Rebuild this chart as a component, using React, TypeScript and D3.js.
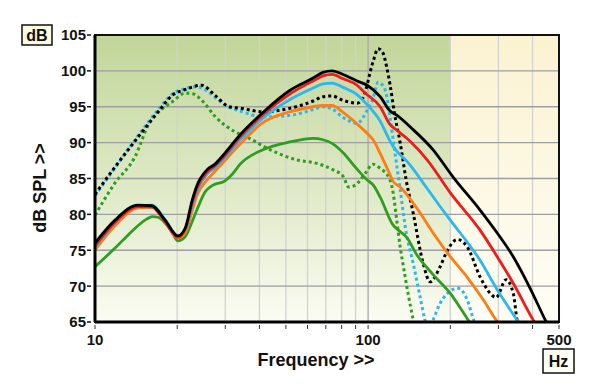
import * as React from 'react';
import {scaleLog, scaleLinear, line, curveMonotoneX} from 'd3';

const width = 600;
const height = 389;

// plot frame, in pixels
const left = 95;
const right = 559;
const top = 35;
const bottom = 322;

const yTicks = [65, 70, 75, 80, 85, 90, 95, 100, 105];
const xTicks = [10, 20, 30, 40, 50, 60, 70, 80, 90, 100, 200, 300, 400, 500];
const xLabels = [10, 100, 500];

// [Hz, dB] pairs
const blackSolid = [
    [10, 76.0], [11.84, 79.2], [14.37, 81.3], [16.17, 81.2], [18.05, 79.2], [20.1, 77.0],
    [21.4, 78.1], [22.7, 82.0], [23.6, 84.0], [25.7, 86.2], [27.5, 87.0], [29.4, 88.2],
    [34, 91.1], [41.2, 94.2], [51.8, 97.3], [62.9, 99.0], [68.4, 99.8], [73.8, 100.0],
    [81, 99.5], [91.1, 98.6], [99.2, 98.0], [110.7, 96.4], [120.4, 94.4], [127.7, 93.8],
    [142.5, 92.2], [173, 89.0], [204.8, 85.2], [257, 80.6], [297, 77.4], [340, 74.1],
    [392, 69.7], [445, 65.3], [470, 63.5],
];
const redSolid = [
    [10, 75.6], [11.84, 78.9], [14.37, 81.1], [16.17, 81.0], [18.05, 79.0], [20.1, 76.8],
    [21.4, 77.9], [22.7, 81.6], [23.6, 83.6], [25.7, 85.9], [27.5, 86.8], [29.4, 87.9],
    [34, 90.8], [41.2, 93.9], [51.8, 96.8], [62.9, 98.6], [68.4, 99.3], [73.8, 99.5],
    [81, 98.9], [91.1, 98.0], [97, 97.0], [110.7, 95.0], [120.4, 92.5], [127.7, 91.7],
    [142.5, 90.2], [164.5, 87.6], [200, 83.0], [257, 77.8], [297, 74.1], [340, 70.4],
    [402, 65.3], [430, 63.5],
];
const cyanSolid = [
    [10, 75.4], [11.84, 78.8], [14.37, 81.2], [16.17, 81.3], [18.05, 79.3], [20.1, 77.0],
    [21.4, 77.8], [22.7, 81.2], [23.6, 83.2], [25.7, 85.6], [27.5, 86.5], [29.4, 87.6],
    [34, 90.4], [41.2, 93.4], [51.8, 96.0], [62.9, 97.6], [68.4, 98.2], [73.8, 98.3],
    [81, 97.7], [91.1, 96.7], [99.2, 95.3], [110.7, 93.0], [120.4, 90.2], [125, 89.2],
    [131, 88.3], [137.8, 87.5], [164.5, 83.6], [183.5, 81.1], [200, 79.2], [257, 73.6],
    [297, 69.5], [345, 65.7], [370, 64.0],
];
const orangeSolid = [
    [10, 75.0], [11.84, 78.4], [14.37, 80.9], [16.17, 81.0], [18.05, 79.0], [20.1, 76.7],
    [21.4, 77.4], [22.7, 80.5], [23.6, 82.6], [25.7, 84.8], [27.5, 86.0], [29.4, 87.2],
    [34, 89.8], [41.2, 92.8], [51.8, 94.3], [62.9, 95.0], [68.4, 95.2], [73.8, 95.2],
    [81, 94.2], [91.1, 92.6], [99.2, 91.3], [104.3, 90.4], [110.7, 88.5], [120.4, 85.5],
    [123.5, 84.6], [131, 83.8], [151.2, 80.8], [173, 77.4], [200, 74.1], [230, 71.3],
    [264, 68.1], [294, 65.3], [320, 63.5],
];
const greenSolid = [
    [10, 72.7], [11.84, 75.3], [13.2, 77.1], [15.4, 79.3], [16.2, 79.7], [17, 79.6],
    [18.05, 78.8], [19.1, 77.6], [20.1, 76.3], [21.4, 76.9], [22.7, 79.0], [23.6, 80.6],
    [25.2, 83.0], [27.5, 84.2], [29.4, 84.5], [31.8, 85.6], [34, 87.0], [41.2, 89.0],
    [51.8, 90.1], [62.9, 90.6], [68.4, 90.4], [73.8, 89.9], [81, 88.6], [91.1, 86.3],
    [99.2, 84.8], [104.3, 84.1], [110.7, 82.4], [123.5, 78.5], [131, 77.6], [137.8, 76.9],
    [151.2, 74.3], [173, 71.6], [200, 69.0], [230.5, 65.5], [250, 63.5],
];
const blackDotted = [
    [10, 82.8], [11.84, 86.6], [14.4, 90.8], [17.2, 94.5], [19.2, 96.6], [21.4, 97.4],
    [24.6, 98.0], [27.5, 96.6], [31, 95.0], [34, 94.8], [41.2, 94.3], [51.8, 94.8],
    [62.9, 95.8], [68.4, 96.4], [73.8, 96.5], [81, 95.9], [91.1, 95.5], [95.9, 96.3],
    [104.3, 101.3], [108.8, 103.1], [113, 102.6], [117, 100.5], [120.4, 98.0], [125, 94.0],
    [131, 90.0], [137.8, 84.8], [146.2, 80.2], [159, 73.2], [168.7, 70.6], [183.5, 72.7],
    [193, 74.6], [212, 76.5], [230.5, 75.5], [257, 71.3], [280, 69.0], [294, 68.4],
    [320, 70.9], [340, 69.0], [351, 65.3], [360, 63.5],
];
const cyanDotted = [
    [10, 82.6], [11.84, 86.5], [14.4, 91.0], [17.2, 94.8], [19.2, 96.8], [21.4, 97.5],
    [23.6, 97.8], [25.7, 97.2], [27.5, 96.3], [31, 94.9], [34, 94.4], [41.2, 93.6],
    [51.8, 93.8], [62.9, 94.6], [68.4, 95.0], [73.8, 94.7], [81, 93.5], [91.1, 92.7],
    [99.2, 94.5], [104.3, 96.2], [108.8, 98.4], [113, 98.0], [117, 96.5], [120.4, 93.5],
    [125, 89.0], [131, 83.5], [137.8, 77.5], [146.2, 73.2], [155, 68.5], [161, 65.5],
    [166, 63.8], [173, 65.3], [183.5, 67.6], [193, 68.8], [213.6, 69.7], [230.5, 68.1],
    [242.4, 65.5], [250, 64.0],
];
const greenDotted = [
    [10, 79.9], [11.8, 84.3], [14.0, 88.0], [15.8, 92.7], [17.5, 94.6], [19.2, 95.7],
    [21.4, 96.9], [22.8, 96.8], [24.6, 95.9], [27.6, 93.6], [32.6, 91.5], [35.9, 90.8],
    [43.8, 89.0], [54.7, 87.6], [64.9, 87.1], [74.5, 86.2], [81, 85.3], [85, 83.8],
    [90, 84.1], [98, 85.8], [104, 87.0], [110, 86.5], [120, 84.9], [123.5, 83.0],
    [127, 79.5], [131, 75.5], [135, 72.5], [140, 69.0], [146, 65.5], [150, 63.5],
];

const series = [
    {data: greenDotted, color: '#2f9d22', dotted: true},
    {data: cyanDotted, color: '#2ab8ef', dotted: true},
    {data: blackDotted, color: '#000000', dotted: true},
    {data: greenSolid, color: '#2f9d22', dotted: false},
    {data: orangeSolid, color: '#ff7d14', dotted: false},
    {data: cyanSolid, color: '#2ab8ef', dotted: false},
    {data: redSolid, color: '#ee1c1c', dotted: false},
    {data: blackSolid, color: '#000000', dotted: false},
];

const xScale = scaleLog().domain([10, 500]).range([left, right]);
const yScale = scaleLinear().domain([65, 105]).range([bottom, top]);

const path = line<number[]>()
    .x(d => xScale(d[0]))
    .y(d => yScale(d[1]))
    .curve(curveMonotoneX);

const font = "Arial, 'Liberation Sans', sans-serif";

export default function App() {
    const split = xScale(200);
    return (
        <svg width={width} height={height} style={{position: 'absolute', left: 0, top: 0, background: '#fff'}}>
            <defs>
                <linearGradient id="greenBg" x1="0" y1="0" x2="0" y2="1">
                    <stop offset="0%" stopColor="#c1d699"/>
                    <stop offset="55%" stopColor="#e0eac8"/>
                    <stop offset="100%" stopColor="#fbfcf3"/>
                </linearGradient>
                <linearGradient id="creamBg" x1="0" y1="0" x2="0" y2="1">
                    <stop offset="0%" stopColor="#fbf2d0"/>
                    <stop offset="100%" stopColor="#fffef7"/>
                </linearGradient>
                <clipPath id="plotClip">
                    <rect x={left} y={top} width={right - left} height={bottom - top}/>
                </clipPath>
            </defs>

            <rect x={left} y={top} width={split - left} height={bottom - top} fill="url(#greenBg)"/>
            <rect x={split} y={top} width={right - split} height={bottom - top} fill="url(#creamBg)"/>

            {xTicks.slice(1, -1).map(t =>
                <line key={t} x1={xScale(t)} x2={xScale(t)} y1={top} y2={bottom}
                      stroke={t === 100 ? '#a8a8a8' : '#d2d2d2'} strokeWidth={1.3}/>
            )}
            {yTicks.slice(1, -1).map(t =>
                <line key={t} x1={left} x2={right} y1={yScale(t)} y2={yScale(t)}
                      stroke="#9e9e9e" strokeWidth={1.3}/>
            )}

            <g clipPath="url(#plotClip)" fill="none" strokeLinejoin="round">
                {series.map((s, i) =>
                    <path key={i} d={path(s.data) || ''} stroke={s.color}
                          strokeWidth={s.dotted ? 3 : 2.8}
                          strokeDasharray={s.dotted ? '3,3' : undefined}/>
                )}
            </g>

            <rect x={left} y={top} width={right - left} height={bottom - top}
                  fill="none" stroke="#111" strokeWidth={2}/>
            <line x1={left} x2={right} y1={bottom} y2={bottom} stroke="#000" strokeWidth={3}/>
            <line x1={left} x2={left} y1={top} y2={bottom} stroke="#000" strokeWidth={3}/>

            <g fontFamily={font} fontWeight="bold" fontSize={15} fill="#111">
                {yTicks.map(t =>
                    <g key={t}>
                        <line x1={87} x2={91} y1={yScale(t)} y2={yScale(t)} stroke="#111" strokeWidth={1.5}/>
                        <text x={86} y={yScale(t)} dy="0.36em" textAnchor="end">{t}</text>
                    </g>
                )}
                {xTicks.map(t =>
                    <line key={t} x1={xScale(t)} x2={xScale(t)} y1={bottom + 3} y2={bottom + 7}
                          stroke="#333" strokeWidth={1}/>
                )}
                {xLabels.map(t =>
                    <text key={t} x={xScale(t)} y={345} textAnchor="middle">{t}</text>
                )}
                <text x={316} y={366} textAnchor="middle" fontSize={18}>Frequency &gt;&gt;</text>
                <text transform="translate(46,188) rotate(-90)" textAnchor="middle" fontSize={18}>dB SPL &gt;&gt;</text>

                <rect x={22} y={25} width={30} height={20} fill="#fbfbe2" stroke="#111" strokeWidth={1.5}/>
                <text x={37} y={41} textAnchor="middle" fontSize={16}>dB</text>
                <rect x={543} y={349} width={31} height={24} fill="#fffff6" stroke="#111" strokeWidth={1.5}/>
                <text x={558.5} y={367} textAnchor="middle" fontSize={16}>Hz</text>
            </g>
        </svg>
    );
}
